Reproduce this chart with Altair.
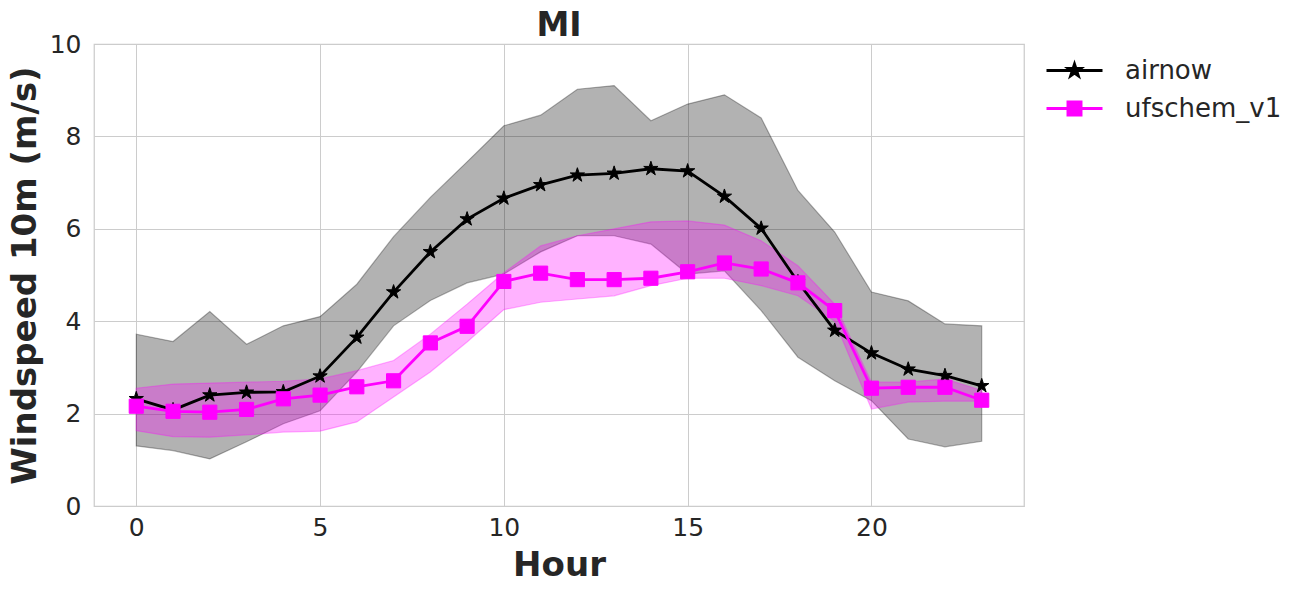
import math
import altair as alt
import pandas as pd

# Hourly wind speed at 10 m over MI: observed (airnow) vs. model (ufschem_v1)
hours = list(range(24))
series_names = ["airnow", "ufschem_v1"]

airnow_mean = [2.32, 2.08, 2.40, 2.46, 2.47, 2.81, 3.65, 4.63, 5.50, 6.21, 6.66, 6.95,
               7.16, 7.20, 7.30, 7.25, 6.70, 6.01, 4.85, 3.80, 3.31, 2.96, 2.82, 2.60]
airnow_hi = [3.72, 3.56, 4.21, 3.50, 3.90, 4.10, 4.80, 5.83, 6.68, 7.45, 8.23, 8.46,
             9.02, 9.10, 8.34, 8.70, 8.90, 8.40, 6.83, 5.93, 4.63, 4.44, 3.94, 3.90]
airnow_lo = [1.30, 1.20, 1.02, 1.39, 1.78, 2.06, 2.90, 3.90, 4.45, 4.83, 5.02, 5.50,
             5.85, 5.85, 5.67, 5.02, 5.09, 4.23, 3.22, 2.71, 2.28, 1.45, 1.28, 1.40]

ufs_mean = [2.16, 2.05, 2.03, 2.09, 2.32, 2.40, 2.58, 2.71, 3.53, 3.89, 4.86, 5.04,
            4.90, 4.90, 4.93, 5.07, 5.26, 5.13, 4.83, 4.23, 2.55, 2.57, 2.57, 2.29]
ufs_hi = [2.55, 2.64, 2.66, 2.68, 2.70, 2.75, 2.93, 3.15, 3.72, 4.37, 5.05, 5.63,
          5.85, 6.00, 6.15, 6.17, 6.08, 5.74, 5.20, 4.37, 2.68, 2.68, 2.75, 2.50]
ufs_lo = [1.63, 1.50, 1.49, 1.54, 1.60, 1.62, 1.82, 2.36, 2.90, 3.55, 4.25, 4.41,
          4.48, 4.55, 4.77, 4.93, 4.93, 4.77, 4.55, 4.00, 2.10, 2.25, 2.27, 2.27]

colors = ["#000000", "#ff00ff"]
TEXT = "#262626"
GRID = "#cccccc"
FONT = "DejaVu Sans"


def star_path(outer, inner):
    pts = []
    for k in range(10):
        r = outer if k % 2 == 0 else inner
        a = -math.pi / 2 + k * math.pi / 5
        pts.append(f"{r * math.cos(a):.4f},{r * math.sin(a):.4f}")
    return "M" + "L".join(pts) + "Z"


def square_path(h):
    return f"M{-h},{-h}L{h},{-h}L{h},{h}L{-h},{h}Z"


# marker shapes for the plot (unit radius, scaled by sqrt(size)/2)
STAR = star_path(1.0, 0.382)
# legend glyphs: a line segment with the marker in the middle
LEG_STAR = "M-2,0L2,0" + star_path(0.47, 0.18)
LEG_SQUARE = "M-2,0L2,0" + square_path(0.47)

x_scale = alt.Scale(domain=[-1.15, 24.15], nice=False, zero=False)
y_scale = alt.Scale(domain=[0, 10], nice=False, zero=False)
x_axis = alt.Axis(values=[0, 5, 10, 15, 20], title="Hour", labelPadding=9,
                  titleY=69, titleBaseline="alphabetic")
y_axis = alt.Axis(values=[0, 2, 4, 6, 8, 10], title="Windspeed 10m (m/s)",
                  labelPadding=13, titleX=-59, titleBaseline="alphabetic")


def series_frame(mean, lo, hi):
    return pd.DataFrame({"hour": hours, "mean": mean, "lo": lo, "hi": hi})


frames = [series_frame(airnow_mean, airnow_lo, airnow_hi),
          series_frame(ufs_mean, ufs_lo, ufs_hi)]

bands, lines = [], []
for i, df in enumerate(frames):
    col = colors[i]
    base = alt.Chart(df)
    bands.append(base.mark_area(color=col, fillOpacity=0.3, stroke=col,
                                strokeOpacity=0.3, strokeWidth=1.2).encode(
        x=alt.X("hour:Q", scale=x_scale, axis=x_axis),
        y=alt.Y("lo:Q", scale=y_scale, axis=y_axis),
        y2="hi:Q",
    ))
    line = base.mark_line(color=col, strokeWidth=2.8).encode(
        x=alt.X("hour:Q", scale=x_scale, axis=x_axis),
        y=alt.Y("mean:Q", scale=y_scale, axis=y_axis),
    )
    if i == 0:
        pts = base.mark_point(shape=STAR, filled=True, fill=col, stroke=col,
                              strokeWidth=1, size=225, opacity=1)
    else:
        pts = base.mark_point(shape="square", filled=True, fill=col, stroke=col,
                              strokeWidth=1, size=200, opacity=1)
    pts = pts.encode(
        x=alt.X("hour:Q", scale=x_scale, axis=x_axis),
        y=alt.Y("mean:Q", scale=y_scale, axis=y_axis),
    )
    lines += [line, pts]

# legend entries (no positions, so nothing is drawn in the plot)
legend_df = pd.DataFrame({"series": series_names,
                          "hour": [None, None], "mean": [None, None]})
leg = alt.Legend(title=None, orient="none", legendX=965, legendY=11,
                 symbolSize=784, symbolStrokeWidth=2.8, symbolOpacity=1,
                 labelFont=FONT, labelFontSize=26, labelColor=TEXT,
                 labelOffset=35, rowPadding=9, padding=0)
legend_layer = alt.Chart(legend_df).mark_point(filled=True).encode(
    x=alt.X("hour:Q", scale=x_scale, axis=x_axis),
    y=alt.Y("mean:Q", scale=y_scale, axis=y_axis),
    fill=alt.Fill("series:N", scale=alt.Scale(domain=series_names, range=colors), legend=leg),
    stroke=alt.Stroke("series:N", scale=alt.Scale(domain=series_names, range=colors), legend=leg),
    shape=alt.Shape("series:N", scale=alt.Scale(domain=series_names,
                                                range=[LEG_STAR, LEG_SQUARE]), legend=leg),
)

chart = alt.layer(*bands, *lines, legend_layer).properties(
    width=930, height=462,
    title=alt.Title("MI", fontSize=33, fontWeight="bold", font=FONT, color=TEXT,
                    offset=-6, dy=38, baseline="bottom", anchor="middle"),
    autosize=alt.AutoSizeParams(type="none"),
    padding={"left": 94, "top": 44, "right": 279, "bottom": 86},
    background="white",
).configure_view(
    stroke=GRID, strokeWidth=1.25,
).configure_axis(
    domain=False, ticks=False, grid=True, gridColor=GRID, gridWidth=1,
    labelFont=FONT, labelFontSize=25, labelColor=TEXT,
    titleFont=FONT, titleFontSize=34, titleFontWeight="bold", titleColor=TEXT,
)

chart.save("out.html", embed_options={"renderer": "svg", "actions": False})
